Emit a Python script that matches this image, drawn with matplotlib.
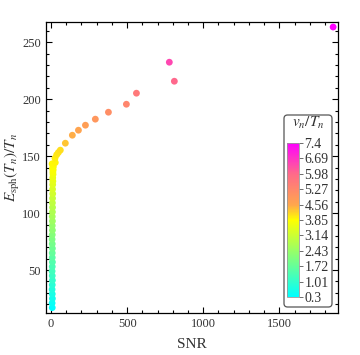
import matplotlib
matplotlib.use('Agg')
import matplotlib.pyplot as plt
from matplotlib.colors import LinearSegmentedColormap, Normalize
from matplotlib.patches import FancyBboxPatch
from matplotlib.ticker import MultipleLocator

plt.rcParams['font.family'] = 'Liberation Serif'
plt.rcParams['mathtext.fontset'] = 'stix'

##### data
# low-SNR column (dense)
snr_col = [8, 7, 9, 8, 7, 8, 9, 8, 7, 8, 9, 8, 8, 9, 8, 7, 8, 9, 8, 9,
           8, 9, 10, 9, 10, 11, 10, 11, 12, 11, 13, 12, 14, 12, 15, 10]
esph_col = [17, 21, 25, 29, 33, 37, 41, 45, 49, 53, 57, 61, 65, 69, 73, 77, 81, 85, 89, 93,
            97, 101, 105, 109, 113, 117, 121, 125, 128, 131, 134, 136, 138, 140, 141, 139]
vn_col = [0.30, 0.42, 0.53, 0.65, 0.76, 0.88, 1.00, 1.11, 1.23, 1.34, 1.46, 1.57, 1.69, 1.80,
          1.92, 2.04, 2.15, 2.27, 2.38, 2.50, 2.61, 2.73, 2.84, 2.96, 3.07, 3.19, 3.30, 3.42,
          3.51, 3.59, 3.68, 3.74, 3.79, 3.85, 3.88, 3.82]

# upper branch
snr_curve = [7, 28, 26, 37, 48, 61, 94, 140, 180, 226, 291, 377, 495, 561, 777, 810, 1853]
esph_curve = [143.3, 144.4, 148.2, 151.2, 153.2, 155.3, 161.4, 168.4, 172.8, 177.2,
              182.5, 188.6, 195.6, 205.3, 232.5, 215.8, 263.4]
vn_curve = [3.88, 3.92, 3.98, 4.02, 4.06, 4.12, 4.3, 4.5, 4.62, 4.75, 4.92, 5.1,
            5.3, 5.6, 6.45, 6.0, 7.4]

cbar_ticks = [0.3, 1.01, 1.72, 2.43, 3.14, 3.85, 4.56, 5.27, 5.98, 6.69, 7.4]

snr = snr_col + snr_curve
esph = esph_col + esph_curve
vn = vn_col + vn_curve

cmap = LinearSegmentedColormap.from_list(
    'cym', [(0.0, '#00ffff'), (0.5, '#ffff00'), (0.6, '#ffa64d'),
            (0.8, '#ff6a8a'), (1.0, '#ff00ff')])
norm = Normalize(vmin=0.3, vmax=7.4)

fig = plt.figure(figsize=(3.6, 3.55), dpi=100)
ax = fig.add_axes([0.1278, 0.1183, 0.8111, 0.8197])
ax.scatter(snr, esph, c=vn, cmap=cmap, norm=norm, s=24, edgecolors='none', zorder=3)

ax.set_xlim(-33, 1885)
ax.set_ylim(12.3, 267.8)
ax.xaxis.set_major_locator(MultipleLocator(500))
ax.xaxis.set_minor_locator(MultipleLocator(100))
ax.yaxis.set_major_locator(MultipleLocator(50))
ax.yaxis.set_minor_locator(MultipleLocator(10))
ax.tick_params(which='both', direction='in', top=True, right=True,
               labelsize=9, labelcolor='#333333', width=0.8)
ax.tick_params(which='major', length=4)
ax.tick_params(which='minor', length=2)
for s in ax.spines.values():
    s.set_linewidth(0.9)
ax.set_xlabel('SNR', fontsize=11, color='#333333', labelpad=6)
ax.set_ylabel(r'$E_{\rm sph}(T_n)/T_n$', fontsize=11, color='#333333', va='center')
ax.yaxis.set_label_coords(-0.116, 0.5)

##### colorbar legend
box = FancyBboxPatch((284 / 360, 1 - 307 / 355), 48 / 360, 192 / 355,
                     boxstyle='round,pad=0,rounding_size=0.01',
                     transform=fig.transFigure, facecolor='white',
                     edgecolor='#555555', linewidth=0.9, zorder=5)
fig.patches.append(box)
cax = fig.add_axes([287 / 360, 1 - 297 / 355, 12 / 360, 154 / 355], zorder=6)
sm = plt.cm.ScalarMappable(norm=norm, cmap=cmap)
cb = fig.colorbar(sm, cax=cax, ticks=cbar_ticks)
cb.outline.set_edgecolor('#999999')
cb.outline.set_linewidth(0.6)
cb.ax.set_yticklabels([str(t) for t in cbar_ticks])
cb.ax.tick_params(length=3, width=0.6, labelsize=10, pad=1, color='#555555', labelcolor='#333333')
fig.text(308 / 360, 1 - 123 / 355, r'$v_n/T_n$', fontsize=11, ha='center', va='center',
         color='#333333', zorder=7)

fig.savefig('out.png', dpi=100)
